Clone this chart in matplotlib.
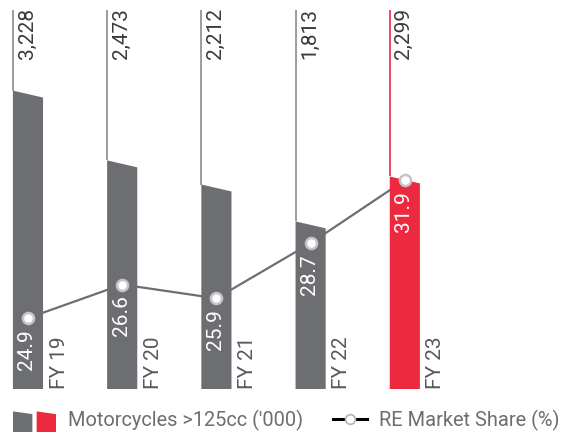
import matplotlib
matplotlib.use("Agg")
import matplotlib.pyplot as plt
from matplotlib.patches import Polygon
from matplotlib.lines import Line2D
from matplotlib.legend_handler import HandlerBase

# ---- data ----
years = ["FY 19", "FY 20", "FY 21", "FY 22", "FY 23"]
motorcycles = [3228, 2473, 2212, 1813, 2299]          # '000 units
value_labels = ["3,228", "2,473", "2,212", "1,813", "2,299"]
market_share = [24.9, 26.6, 25.9, 28.7, 31.9]          # %
highlight = [False, False, False, False, True]

# ---- style ----
GREY = "#6d6e71"
RED = "#ed2940"
LINE_GREY = "#8a8b8d"
TEXT_DARK = "#3a3a3b"
TEXT_GREY = "#58595b"
FONT = "Roboto"
FW = "normal"
FS = 15
LEG_FS = 14.4
BAR_W = 0.32
SLANT = 75

plt.rcParams["font.family"] = [FONT, "DejaVu Sans"]

fig = plt.figure(figsize=(5.65, 4.38), dpi=100)
rect = [0, 49 / 438, 1, 379 / 438]
ax_line = fig.add_axes(rect, zorder=1)
ax_bar = fig.add_axes(rect, zorder=2, sharex=ax_line)
ax_mark = fig.add_axes(rect, zorder=3, sharex=ax_line)
for a in (ax_line, ax_bar, ax_mark):
    a.set_axis_off()
    a.patch.set_visible(False)

ax_line.set_xlim(-0.297, 5.70)
YMAX = 4100
ax_bar.set_ylim(0, YMAX)
ax_line.set_ylim(21.30, 40.53)
ax_mark.set_ylim(21.30, 40.53)

xs = list(range(len(years)))

for i, (v, lab, yr, hl) in enumerate(zip(motorcycles, value_labels, years, highlight)):
    c = RED if hl else GREY
    l, r = i - BAR_W / 2, i + BAR_W / 2
    ax_bar.add_patch(Polygon([[l, 0], [r, 0], [r, v - SLANT], [l, v]],
                             closed=True, fc=c, ec="none"))
    ax_bar.vlines(l, v, YMAX, color=(RED if hl else LINE_GREY), lw=1.2)
    ax_bar.annotate(lab, (i, YMAX), xytext=(-1, 2), textcoords="offset pixels",
                    rotation=90, ha="center", va="top", fontsize=FS,
                    color=TEXT_DARK, fontweight=FW)
    ax_bar.annotate(yr, (r, 0), xytext=(16, 0), textcoords="offset pixels",
                    rotation=90, ha="center", va="bottom", fontsize=FS,
                    color=TEXT_GREY, fontweight=FW)

ax_line.plot(xs, market_share, color=GREY, lw=1.6)
ax_mark.plot(xs, market_share, ls="none", marker="o", ms=8,
             mfc="white", mec="#c4c4c6", mew=1.8)
for i, s in enumerate(market_share):
    ax_mark.annotate(f"{s}", (i, s), xytext=(-1, -11), textcoords="offset pixels",
                     rotation=90, ha="center", va="top", fontsize=FS,
                     color="white", fontweight=FW)


class TwoSlabHandler(HandlerBase):
    def create_artists(self, legend, orig_handle, xdescent, ydescent,
                       width, height, fontsize, trans):
        w = width * 0.45
        gap = width * 0.10
        arts = []
        for k, col in enumerate([GREY, RED]):
            x0 = -xdescent + k * (w + gap)
            y0 = -ydescent - height * 0.2
            arts.append(Polygon([[x0, y0], [x0 + w, y0], [x0 + w, y0 + height * 1.0],
                                 [x0, y0 + height * 1.15]], closed=True, fc=col,
                                ec="none", transform=trans))
        return arts


class ShortLineHandler(HandlerBase):
    def create_artists(self, legend, orig_handle, xdescent, ydescent,
                       width, height, fontsize, trans):
        x1 = -xdescent + width * 0.2
        x2 = -xdescent + width
        ym = -ydescent + height / 2
        ln = Line2D([x1, x2], [ym, ym], color="black", lw=2.2, transform=trans)
        mk = Line2D([(x1 + x2) / 2], [ym], ls="none", marker="o", ms=7,
                    mfc="white", mec="#b8b8b8", mew=1.3, transform=trans)
        return [ln, mk]


class SlabKey:
    pass


class LineKey:
    pass


leg = fig.legend([SlabKey(), LineKey()],
                 ["Motorcycles >125cc ('000)", "RE Market Share (%)"],
                 handler_map={SlabKey: TwoSlabHandler(), LineKey: ShortLineHandler()},
                 loc="lower left", bbox_to_anchor=(13 / 565, 7 / 438),
                 ncol=2, frameon=False, fontsize=LEG_FS,
                 handlelength=2.15, handleheight=1.0, handletextpad=0.6,
                 columnspacing=1.05, borderaxespad=0, borderpad=0)
for t in leg.get_texts():
    t.set_color(GREY)
    t.set_fontweight(FW)

fig.savefig("out.png", dpi=100)
